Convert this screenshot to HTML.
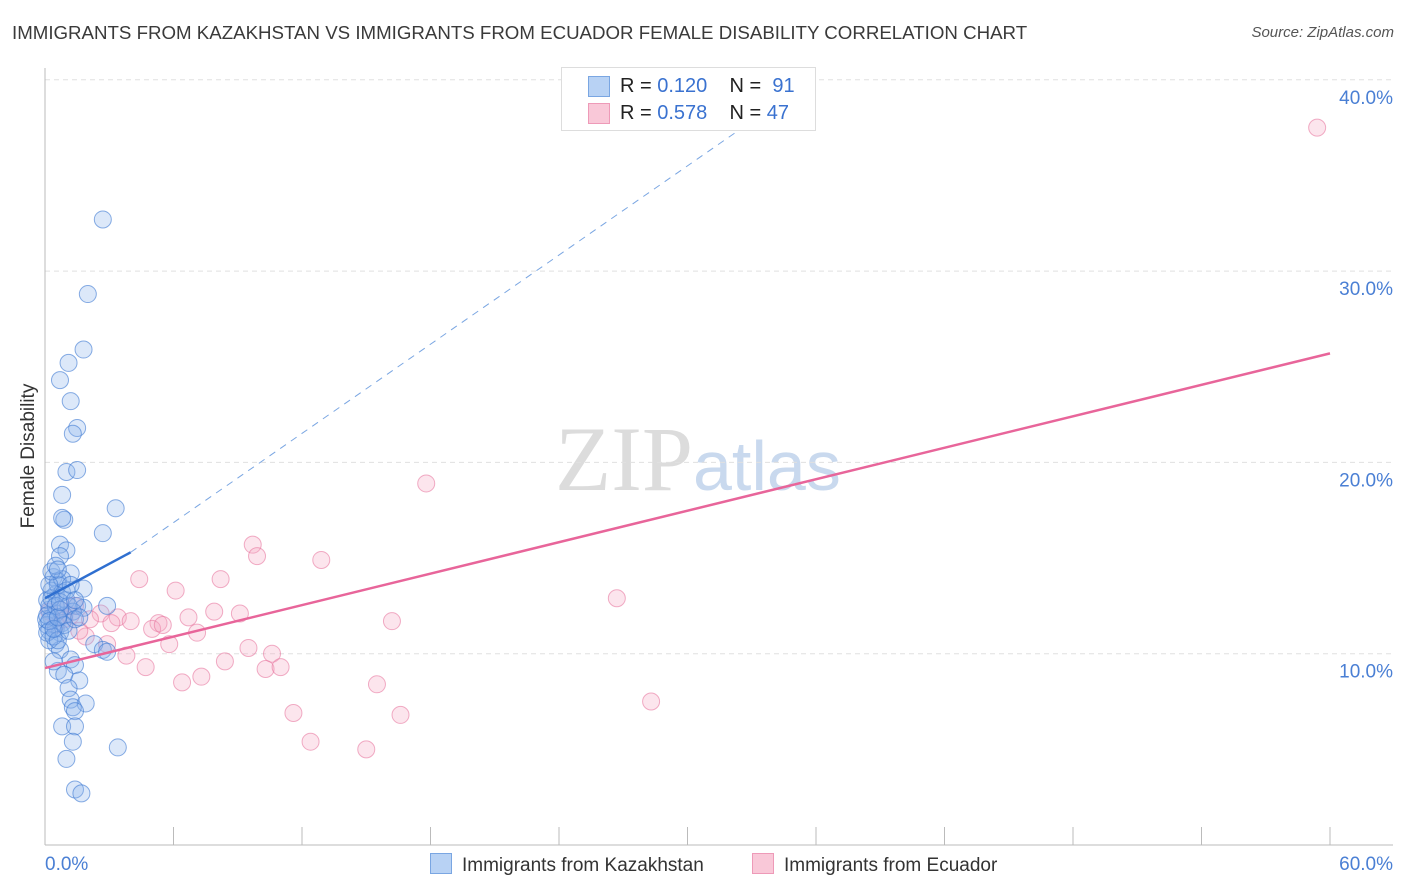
<!DOCTYPE html>
<html><head><meta charset="utf-8">
<style>
body{margin:0;background:#fff;font-family:"Liberation Sans",sans-serif;}
#wrap{position:relative;width:1406px;height:892px;overflow:hidden;}
.t{position:absolute;white-space:nowrap;}
</style></head>
<body>
<div id="wrap">
<div class="t" style="left:12px;top:22px;font-size:18.7px;color:#3a3a3a;">IMMIGRANTS FROM KAZAKHSTAN VS IMMIGRANTS FROM ECUADOR FEMALE DISABILITY CORRELATION CHART</div>
<div class="t" style="right:12px;top:24px;font-size:15px;color:#555;font-style:italic;">Source: ZipAtlas.com</div>
<svg id="svg" width="1406" height="892" style="position:absolute;left:0;top:0"></svg>
</div>
<script>
const yTicks=[10,20,30,40];
const yTickLabels=["10.0%","20.0%","30.0%","40.0%"];
const xTickVals=[0,6,12,18,24,30,36,42,48,54,60];
const xEndLabels=["0.0%","60.0%"];
const blueX=[2.7,2.0,1.8,1.1,0.7,1.2,1.5,1.3,1.0,1.5,0.8,0.9,0.8,3.3,2.7,0.7,1.0,0.7,1.2,0.4,0.6,1.8,0.5,1.0,2.9,0.2,0.5,1.5,1.8,0.3,0.8,0.1,0.5,0.7,0.2,2.3,2.7,2.9,0.5,0.7,1.2,1.4,0.6,0.9,1.6,1.1,1.2,1.9,1.3,1.4,0.8,1.4,1.3,3.4,1.0,1.4,1.7,0.2,0.4,0.9,1.3,0.1,0.3,0.6,0.8,1.1,0.05,0.1,0.4,0.6,0.2,0.3,0.5,0.7,0.9,1.1,1.4,1.6,0.1,0.2,0.4,0.6,0.7,0.8,1.0,0.2,0.3,0.5,0.6,1.2,1.4];
const blueY=[32.7,28.8,25.9,25.2,24.3,23.2,21.8,21.5,19.5,19.6,18.3,17.0,17.1,17.6,16.3,15.7,15.4,15.1,14.2,14.0,13.8,13.4,13.1,12.8,12.5,12.3,12.1,12.5,12.4,11.9,11.6,11.5,11.3,11.1,11.2,10.5,10.2,10.1,10.5,10.2,9.7,9.4,9.1,8.9,8.6,8.2,7.6,7.4,7.2,7.0,6.2,6.2,5.4,5.1,4.5,2.9,2.7,10.7,9.6,12.0,12.2,12.8,13.3,13.6,13.2,12.5,11.8,11.1,10.9,10.7,12.5,12.9,12.5,12.3,11.5,11.2,11.8,11.9,12.0,11.7,11.3,11.9,12.7,13.9,13.3,13.6,14.3,14.6,14.4,13.6,12.8];
const pinkX=[59.4,17.8,12.9,9.7,9.9,4.4,8.2,6.1,26.7,7.9,9.1,6.7,16.2,3.4,4.0,2.6,5.3,5.0,5.5,7.1,3.1,1.9,5.8,9.5,10.6,2.9,3.8,8.4,4.7,10.3,11.0,7.3,6.4,15.5,11.6,16.6,28.3,12.4,15.0,0.7,1.2,1.4,0.9,0.5,1.6,2.1,0.2];
const pinkY=[37.5,18.9,14.9,15.7,15.1,13.9,13.9,13.3,12.9,12.2,12.1,11.9,11.7,11.9,11.7,12.1,11.6,11.3,11.5,11.1,11.6,10.9,10.5,10.3,10.0,10.5,9.9,9.6,9.3,9.2,9.3,8.8,8.5,8.4,6.9,6.8,7.5,5.4,5.0,12.3,12.0,12.5,11.8,11.5,11.2,11.8,12.2];
const pinkTrend=[9.25,25.7];
const blueTrend=[12.9,15.3,37.6];
const blueTrendX=[0,4,32.7];

const svg=document.getElementById('svg');
const NS='http://www.w3.org/2000/svg';
const X0=45,X1=1330,Y0=845,PX=191.3;
const sx=v=>X0+(X1-X0)*v/60;
const sy=v=>Y0-PX*v/10;
function mk(tag,attrs,parent){const e=document.createElementNS(NS,tag);for(const k in attrs)e.setAttribute(k,attrs[k]);(parent||svg).appendChild(e);return e;}

let wm=mk('text',{x:555,y:490,'font-size':92,'font-family':'Liberation Serif, serif',fill:'#dcdcdc'});


wm.innerHTML='ZIP<tspan font-family="Liberation Sans, sans-serif" font-size="70" fill="#c9d9ee">atlas</tspan>';

yTicks.forEach((v,i)=>{
  const g=mk('line',{x1:X0,x2:1393,y1:sy(v),y2:sy(v),stroke:'#e0e0e0','stroke-dasharray':'5,4'});
  
  
  const t=mk('text',{x:1393,y:sy(v)+24,'text-anchor':'end','font-size':19,fill:'#4a7fd4'});
  
  
  t.textContent=yTickLabels[i];
});
let ax=mk('line',{x1:X0,x2:X0,y1:68,y2:Y0,stroke:'#bbb'});


let bx=mk('line',{x1:X0,x2:1393,y1:Y0,y2:Y0,stroke:'#bbb'});


xTickVals.forEach(v=>{
  const l=mk('line',{x1:sx(v),x2:sx(v),y1:Y0,y2:827,stroke:'#bbb'});
  
  
});
[[0,'start',45],[60,'end',1393]].forEach((a,i)=>{
  const t=mk('text',{x:a[2],y:870,'text-anchor':a[1],'font-size':19,fill:'#4a7fd4'});
  
  
  t.textContent=xEndLabels[i];
});
let yt=mk('text',{x:34,y:456,'text-anchor':'middle','font-size':19,fill:'#333',transform:'rotate(-90 34 456)'});


yt.textContent='Female Disability';

pinkX.forEach((x,i)=>{
  const c=mk('circle',{cx:sx(x),cy:sy(pinkY[i]),r:8.5,fill:'rgba(246,170,195,0.3)',stroke:'rgba(232,120,160,0.6)','stroke-width':1});
  
  
});
blueX.forEach((x,i)=>{
  const c=mk('circle',{cx:sx(x),cy:sy(blueY[i]),r:8.5,fill:'rgba(140,180,235,0.3)',stroke:'rgba(60,120,210,0.6)','stroke-width':1});
  
  
});
let pt=mk('line',{x1:sx(0),y1:sy(pinkTrend[0]),x2:sx(60),y2:sy(pinkTrend[1]),stroke:'#e8659a','stroke-width':2.5});


let bt=mk('line',{x1:sx(blueTrendX[0]),y1:sy(blueTrend[0]),x2:sx(blueTrendX[1]),y2:sy(blueTrend[1]),stroke:'#2f6fd0','stroke-width':2.5});


let bd=mk('line',{x1:sx(blueTrendX[1]),y1:sy(blueTrend[1]),x2:sx(blueTrendX[2]),y2:sy(blueTrend[2]),stroke:'#7aa6e2','stroke-width':1,'stroke-dasharray':'7,6'});


</script>
<div class="t" style="left:561px;top:67px;width:253px;height:62px;border:1px solid #ddd;background:#fff;font-size:20px;">
  <div style="position:absolute;left:26px;top:8px;width:20px;height:19px;background:#b8d2f4;border:1px solid #7aa6e2;"></div>
  <div class="t" style="left:58px;top:7px;color:#222;">R = <span style="color:#3a72d0">0.120</span>&nbsp;&nbsp;&nbsp; N = &nbsp;<span style="color:#3a72d0">91</span></div>
  <div style="position:absolute;left:26px;top:35px;width:20px;height:19px;background:#f9c8d8;border:1px solid #ee9ab8;"></div>
  <div class="t" style="left:58px;top:34px;color:#222;">R = <span style="color:#3a72d0">0.578</span>&nbsp;&nbsp;&nbsp; N = <span style="color:#3a72d0">47</span></div>
</div>
<div class="t" style="left:430px;top:853px;font-size:19px;color:#333;"><span style="display:inline-block;width:20px;height:19px;background:#b8d2f4;border:1px solid #7aa6e2;vertical-align:-3px;margin-right:10px;"></span>Immigrants from Kazakhstan</div>
<div class="t" style="left:752px;top:853px;font-size:19px;color:#333;"><span style="display:inline-block;width:20px;height:19px;background:#f9c8d8;border:1px solid #ee9ab8;vertical-align:-3px;margin-right:10px;"></span>Immigrants from Ecuador</div>
</body></html>
